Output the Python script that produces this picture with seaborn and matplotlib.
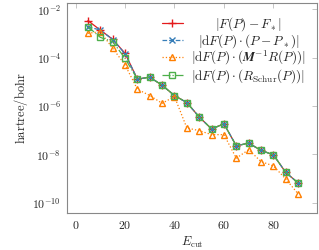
import numpy as np
import pandas as pd
import seaborn as sns
import matplotlib
matplotlib.use("Agg")
import matplotlib.pyplot as plt
from matplotlib.ticker import FixedLocator, FuncFormatter, NullLocator

# data
ecut = [5, 10, 15, 20, 25, 30, 35, 40, 45, 50, 55, 60, 65, 70, 75, 80, 85, 90]
err_energy = [3.4e-3, 1.38e-3, 5.75e-4, 1.51e-4, 1.29e-5, 1.55e-5, 7.2e-6, 2.7e-6, 1.38e-6,
              3.5e-7, 1.12e-7, 1.82e-7, 2.24e-8, 2.9e-8, 1.45e-8, 9.5e-9, 1.78e-9, 6.5e-10]
err_exact = [1.9e-3, 1.38e-3, 5.6e-4, 1.45e-4, 1.29e-5, 1.55e-5, 7.2e-6, 2.7e-6, 1.38e-6,
             3.5e-7, 1.12e-7, 1.82e-7, 2.24e-8, 2.9e-8, 1.45e-8, 9.5e-9, 1.78e-9, 6.5e-10]
err_precond = [1.02e-3, 1.17e-3, 2.45e-4, 5.0e-5, 4.9e-6, 2.7e-6, 1.29e-6, 2.45e-6, 1.23e-7,
               9.5e-8, 6.5e-8, 6.5e-8, 6.9e-9, 1.55e-8, 5.0e-9, 3.3e-9, 9.5e-10, 2.3e-10]
err_schur = [1.9e-3, 6.9e-4, 4.6e-4, 9.3e-5, 1.29e-5, 1.55e-5, 7.2e-6, 2.7e-6, 1.38e-6,
             3.5e-7, 1.12e-7, 1.82e-7, 2.24e-8, 2.9e-8, 1.45e-8, 9.5e-9, 1.78e-9, 6.5e-10]

labels = [r'$|F(P) - F_*|$',
          r'$|\mathrm{d}F(P) \cdot (P - P_*)|$',
          r'$|\mathrm{d}F(P) \cdot (\mathbfit{M}^{-1} R(P))|$',
          r'$|\mathrm{d}F(P) \cdot (R_{\mathrm{Schur}}(P))|$']

sns.set_style("white")
plt.rcParams['mathtext.fontset'] = 'cm'
plt.rcParams['font.family'] = ['DejaVu Serif']

fig = plt.figure(figsize=(3.19, 2.5), dpi=100)
ax = fig.add_axes([0.209, 0.147, 0.786, 0.840])

series = [
    (err_energy, '#e41a1c', '-', '+', 'full', 5.5),
    (err_exact, '#377eb8', '--', 'x', 'full', 4),
    (err_precond, '#ff7f00', ':', '^', 'none', 5),
    (err_schur, '#4daf4a', '-.', 's', 'none', 4),
]
for (vals, col, ls, mk, fill, ms), lab in zip(series, labels):
    df = pd.DataFrame({'ecut': ecut, 'err': vals})
    kw = dict(markerfacecolor='none') if fill == 'none' else {}
    sns.lineplot(data=df, x='ecut', y='err', ax=ax, color=col, linestyle=ls,
                 marker=mk, markersize=ms, markeredgewidth=1.0,
                 markeredgecolor=col, linewidth=0.9, label=lab, **kw)

ax.set_yscale('log')
ax.set_xlim(-3.6, 97.8)
ax.set_ylim(10 ** -10.44, 10 ** -1.75)
ax.xaxis.set_major_locator(FixedLocator([0, 20, 40, 60, 80]))
ax.yaxis.set_major_locator(FixedLocator([1e-10, 1e-8, 1e-6, 1e-4, 1e-2]))
ax.yaxis.set_minor_locator(NullLocator())
ax.xaxis.set_major_formatter(FuncFormatter(lambda v, p: r'$%d$' % v))
ax.yaxis.set_major_formatter(FuncFormatter(lambda v, p: r'$10^{%d}$' % round(np.log10(v))))
ax.tick_params(which='both', direction='in', top=True, right=True, length=3.5,
               width=0.6, color='#bbbbbb', labelsize=8.5, pad=4)
for s in ax.spines.values():
    s.set_color('#888888')
    s.set_linewidth(0.8)

ax.set_xlabel(r'$E_{\mathrm{cut}}$', fontsize=9, labelpad=2)
ax.set_ylabel(r'$\mathrm{hartree/bohr}$', fontsize=9, labelpad=2)

leg = ax.legend(loc='upper right', frameon=False, fontsize=9.5, handlelength=1.6,
                handletextpad=0.6, labelspacing=-0.05, borderaxespad=0.2, borderpad=0.7)

# centre the legend texts like pgfplots does
fig.canvas.draw()
r = fig.canvas.get_renderer()
texts = leg.get_texts()
widths = [t.get_window_extent(r).width for t in texts]
wmax = max(widths)
for t, w in zip(texts, widths):
    t.set_position(((wmax - w) / 2, 0))

fig.savefig('out.png', dpi=100)
